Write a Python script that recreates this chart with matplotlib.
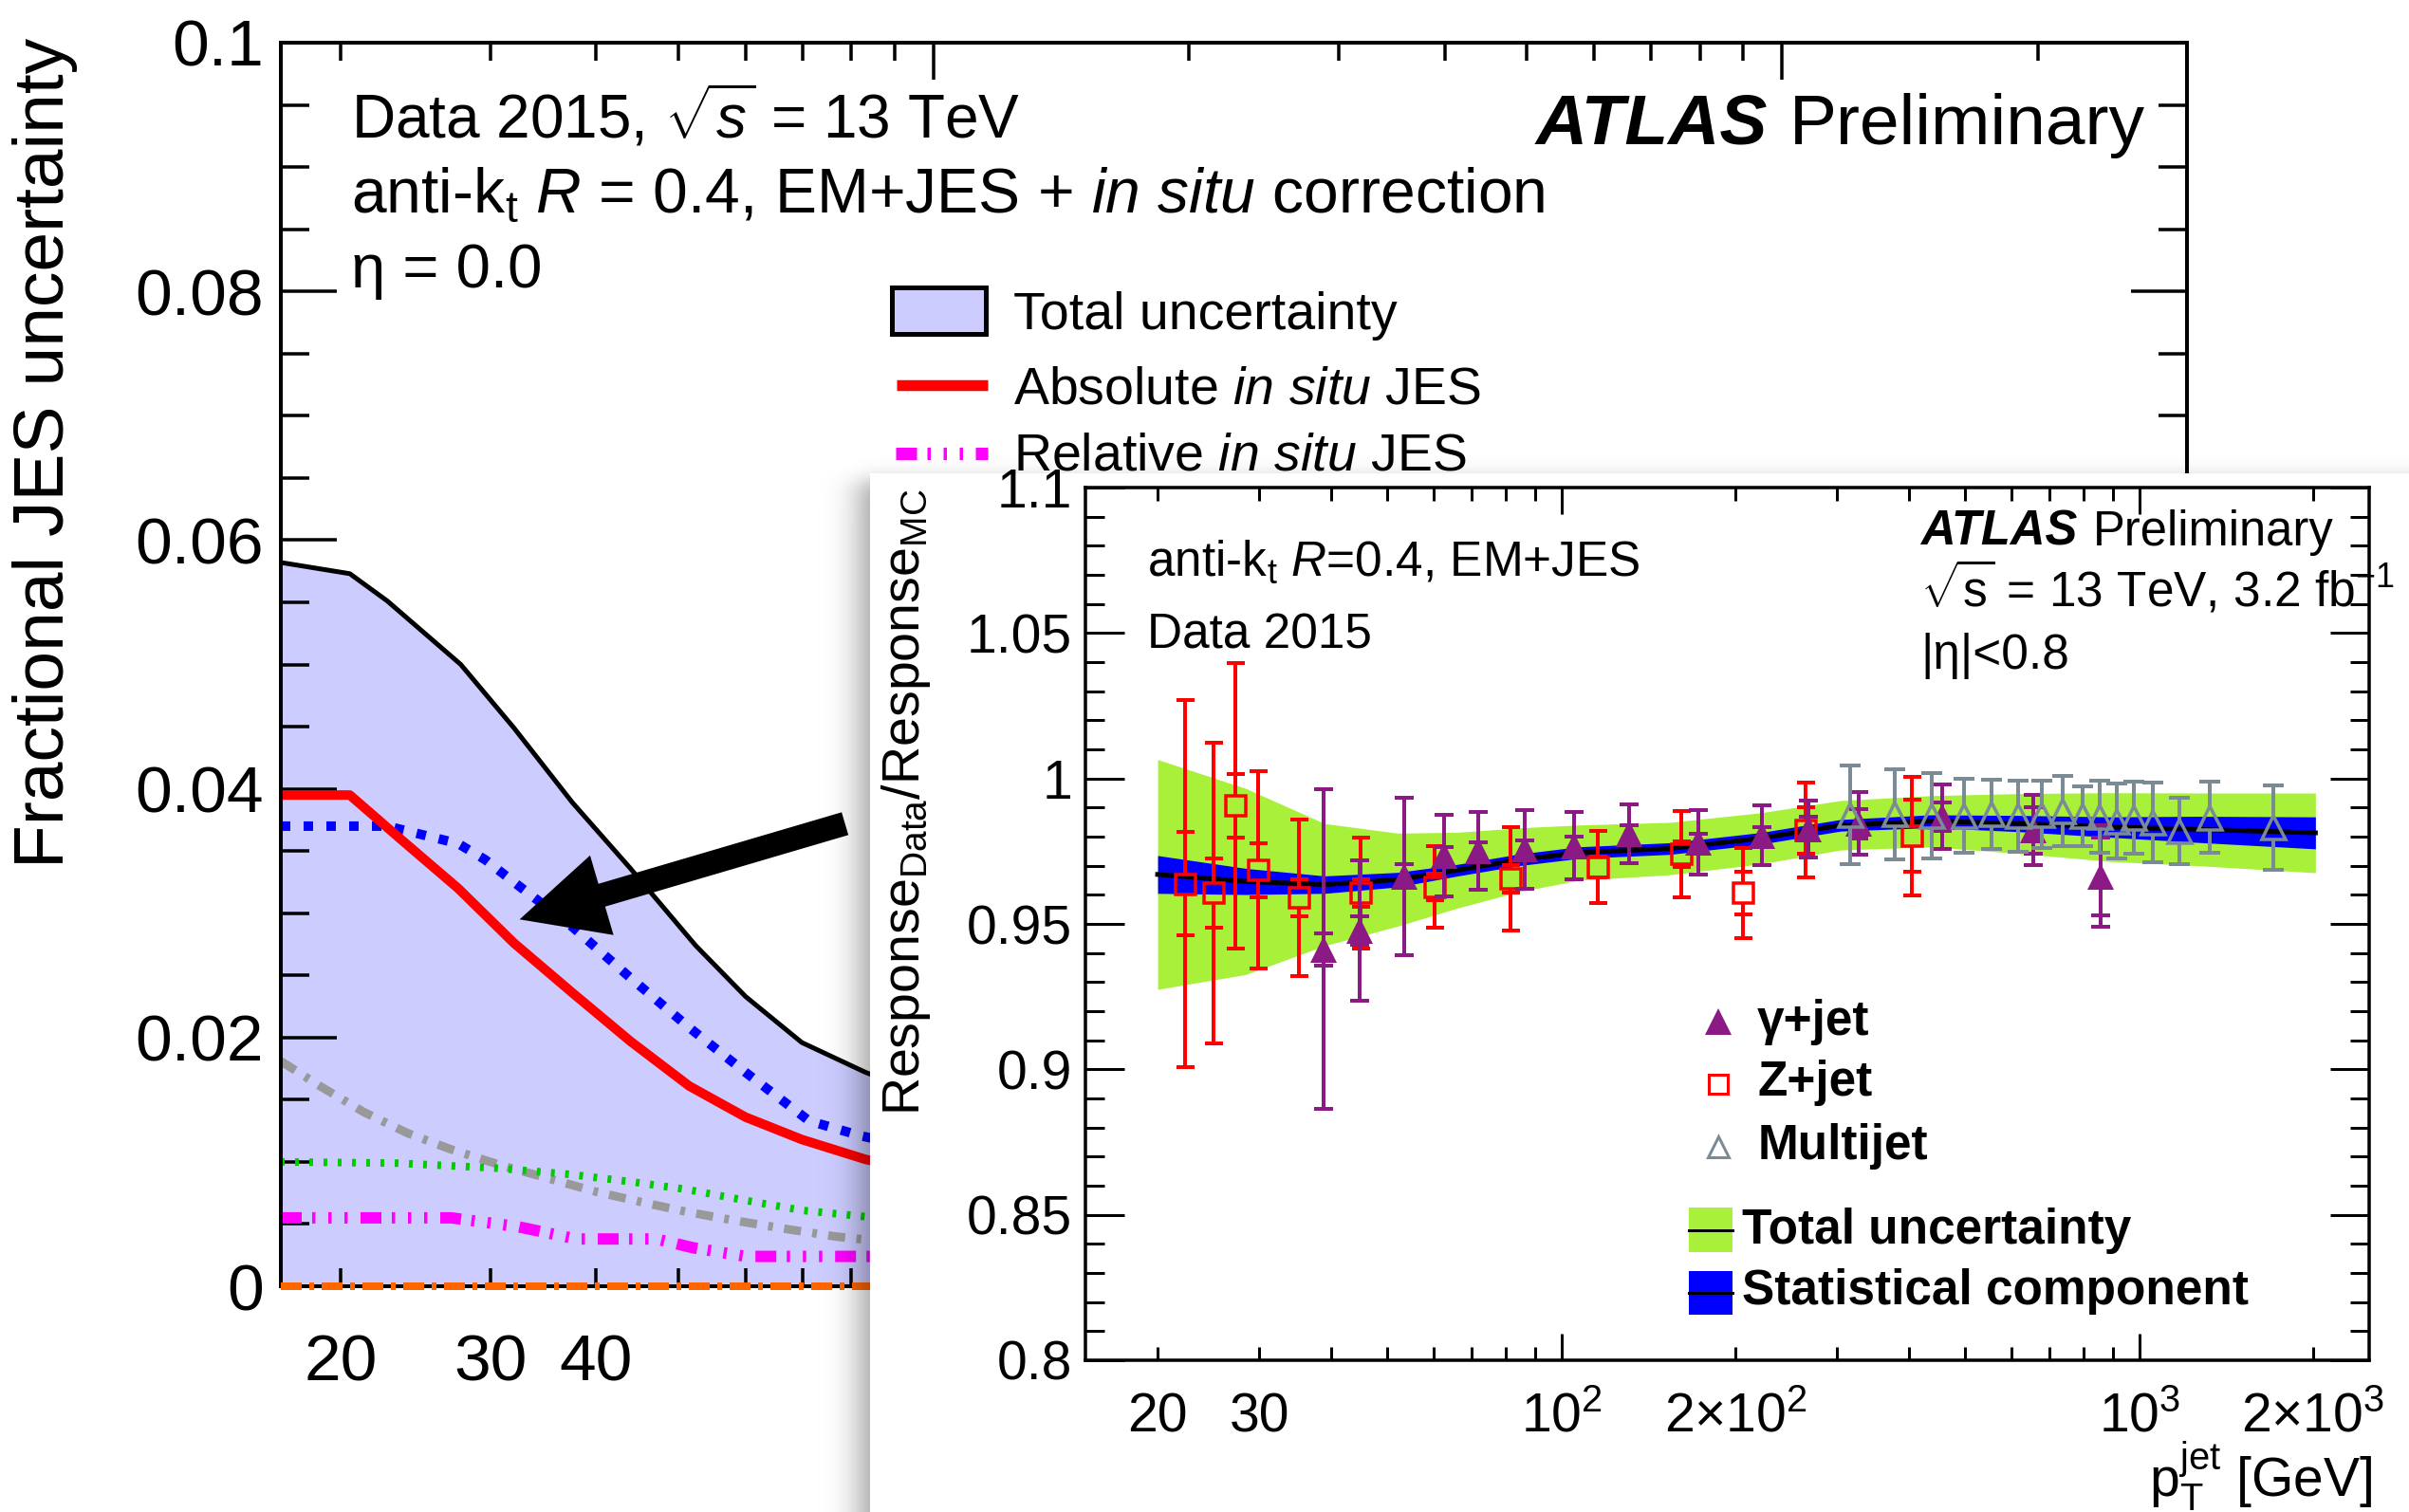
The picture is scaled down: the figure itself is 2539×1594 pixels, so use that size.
import numpy as np
import matplotlib
matplotlib.use('Agg')
import matplotlib.pyplot as plt
from matplotlib.patches import Rectangle, FancyArrowPatch, ArrowStyle
from matplotlib.lines import Line2D
from matplotlib.ticker import FixedLocator, FuncFormatter, MultipleLocator

plt.rcParams['font.family'] = ['Liberation Sans', 'DejaVu Sans']
plt.rcParams['mathtext.fontset'] = 'custom'
plt.rcParams['mathtext.rm'] = 'Liberation Sans'
plt.rcParams['mathtext.it'] = 'Liberation Sans:italic'
plt.rcParams['mathtext.bf'] = 'Liberation Sans:bold'
plt.rcParams['mathtext.sf'] = 'Liberation Sans'
plt.rcParams['lines.scale_dashes'] = False

# ---------------- background plot: fractional JES uncertainty (eta = 0) ----------------
pt_total = [17, 20.5, 22.7, 27.7, 32.0, 37.5, 43.9, 52.4, 60.0, 69.9, 83.1, 90]
unc_total = [0.0582, 0.0573, 0.0551, 0.0500, 0.0449, 0.0389, 0.0336, 0.0274, 0.0233, 0.0196, 0.0172, 0.0163]
pt_abs = [17, 20.5, 23.4, 27.5, 32.0, 37.5, 43.9, 51.5, 60.0, 69.9, 83.1, 90]
unc_abs = [0.0395, 0.0395, 0.0361, 0.0320, 0.0276, 0.0236, 0.0197, 0.0161, 0.0136, 0.0118, 0.0102, 0.0097]
pt_rel = [17, 27.0, 32.3, 37.9, 47.1, 52.0, 60.0, 82, 90]
unc_rel = [0.0055, 0.0055, 0.0048, 0.0038, 0.0038, 0.0031, 0.0024, 0.0024, 0.0024]
pt_flavcomp = [17, 22.7, 27.5, 29.6, 32.0, 37.5, 43.9, 51.5, 60.0, 71.3, 82, 90]
unc_flavcomp = [0.0370, 0.0370, 0.0356, 0.0343, 0.0325, 0.0289, 0.0248, 0.0208, 0.0172, 0.0133, 0.0121, 0.0115]
pt_flavresp = [17, 23.3, 30.5, 37.2, 44, 51, 60, 70, 83, 90]
unc_flavresp = [0.0100, 0.0099, 0.0095, 0.0090, 0.0084, 0.0078, 0.0069, 0.0061, 0.0056, 0.0053]
pt_pileup = [17.0, 18.9, 21.3, 24.0, 27.0, 31.0, 35.0, 40.0, 45.0, 51.0, 58.1, 67.1, 76.6, 90]
unc_pileup = [0.0181, 0.0161, 0.0140, 0.0123, 0.0110, 0.0097, 0.0087, 0.0076, 0.0068, 0.0060, 0.0053, 0.0046, 0.0040, 0.0035]
pt_punch = [17, 90]
unc_punch = [0.0, 0.0]
bg_legend = ['Total uncertainty', r'Absolute $\mathit{in\ situ}$ JES', r'Relative $\mathit{in\ situ}$ JES']

# ---------------- inset: Response(Data)/Response(MC) ----------------
zj_pt = [22.3, 25.0, 27.3, 29.9, 35.1, 44.9, 60.3, 81.7, 115.7, 161.5, 206.4, 264.9, 404.7]
zj_r = [0.9638, 0.9606, 0.9906, 0.9685, 0.9590, 0.9606, 0.9627, 0.9655, 0.9695, 0.9740, 0.9606, 0.9822, 0.9802]
zj_tot = [0.063, 0.0517, 0.049, 0.0339, 0.0268, 0.019, 0.0139, 0.0177, 0.0124, 0.0149, 0.0156, 0.0163, 0.0204]
zj_stat = [0.0177, 0.0119, 0.0110, 0.0093, 0.0063, 0.0047, 0.0046, 0.0048, 0.0035, 0.0043, 0.0073, 0.0080, 0.0124]

gj_pt = [38.8, 44.7, 53.4, 62.7, 71.7, 86.3, 105.1, 130.9, 172.8, 222.0, 267.7, 326.8, 456.2, 654.9, 858.5]
gj_r = [0.9413, 0.9477, 0.9664, 0.9734, 0.9751, 0.9757, 0.9769, 0.9810, 0.9781, 0.9804, 0.9827, 0.9845, 0.9868, 0.9822, 0.9664]
gj_tot = [0.055, 0.024, 0.027, 0.014, 0.0133, 0.0135, 0.0115, 0.0101, 0.011, 0.0102, 0.0098, 0.0107, 0.011, 0.012, 0.0175]
gj_stat = [0.0056, 0.005, 0.004, 0.003, 0.003, 0.003, 0.003, 0.003, 0.003, 0.003, 0.004, 0.005, 0.005, 0.008, 0.0134]

mj_pt = [315.4, 376.9, 436.9, 496.8, 555.9, 617.5, 678.5, 737.9, 796.8, 855.4, 915.2, 977.5, 1054, 1175, 1324, 1705]
mj_r = [0.9875, 0.9877, 0.9871, 0.9871, 0.9877, 0.9871, 0.9876, 0.9888, 0.9871, 0.9867, 0.9853, 0.9864, 0.9849, 0.9819, 0.9866, 0.9832]
mj_tot = [0.0168, 0.0155, 0.0146, 0.0128, 0.0120, 0.0123, 0.0115, 0.0121, 0.0103, 0.0124, 0.0128, 0.0124, 0.0136, 0.0114, 0.0123, 0.0145]

fit_pt = [20, 28.4, 38.9, 52, 66.2, 84.2, 107, 154, 221, 304, 435, 621, 887, 1266, 2018]
fit_r = [0.9670, 0.9646, 0.9635, 0.9652, 0.9685, 0.9720, 0.9745, 0.9759, 0.9794, 0.9839, 0.9853, 0.9845, 0.9833, 0.9825, 0.9813]
fit_stat = [0.0065, 0.0045, 0.003, 0.0025, 0.002, 0.002, 0.002, 0.002, 0.002, 0.002, 0.0022, 0.0028, 0.0035, 0.0045, 0.0055]
fit_tot = [0.0395, 0.032, 0.021, 0.016, 0.013, 0.011, 0.0095, 0.009, 0.0088, 0.0085, 0.0088, 0.0103, 0.0118, 0.0125, 0.0137]
inset_legend = ['γ+jet', 'Z+jet', 'Multijet', 'Total uncertainty', 'Statistical component']

# ---------------- layout helpers ----------------
W, H, DPI = 2539, 1594, 100
PT = 72.0 / DPI


def P(px):
    return px * PT


fig = plt.figure(figsize=(W / DPI, H / DPI), dpi=DPI, facecolor='white')
TF = fig.transFigure


def box(l, t, r, b):
    return [l / W, 1 - b / H, (r - l) / W, (b - t) / H]


def F(px, py):
    return (px / W, 1 - py / H)


renderer = fig.canvas.get_renderer()


def atlas_label(ax, x_left, y_base, size, gap_px):
    t1 = ax.text(*F(x_left, y_base), 'ATLAS', transform=TF, fontsize=size,
                 fontweight='bold', fontstyle='italic', va='baseline', ha='left')
    bb = t1.get_window_extent(renderer=renderer)
    ax.text((bb.x1 + gap_px) / W, 1 - y_base / H, 'Preliminary', transform=TF,
            fontsize=size, va='baseline', ha='left')


# ================= background axes =================
ax1 = fig.add_axes(box(296, 45, 2305, 1356), zorder=0)
ax1.set_xscale('log')
ax1.fill_between(pt_total, 0, unc_total, color='#ccccff', lw=0, zorder=1)
ax1.plot(pt_total, unc_total, color='black', lw=P(5), zorder=2)
ax1.plot(pt_punch, unc_punch, color='#ff6600', lw=P(8), dashes=(P(22), P(8), P(5), P(8)),
         zorder=3, clip_on=False)
rel_dash = (P(22), P(11), P(3.5), P(13.5), P(3.5), P(13.5), P(3.5), P(13.5))
ax1.plot(pt_rel, unc_rel, color='#ff00ff', lw=P(12), dashes=rel_dash, zorder=2)
ax1.plot(pt_pileup, unc_pileup, color='#999999', lw=P(9), dashes=(P(18), P(12), P(5), P(12)), zorder=2)
ax1.plot(pt_flavresp, unc_flavresp, color='#00cc00', lw=P(8), dashes=(P(4), P(11)), zorder=2)
ax1.plot(pt_flavcomp, unc_flavcomp, color='#0000ff', lw=P(10), dashes=(P(10), P(14)), zorder=2)
ax1.plot(pt_abs, unc_abs, color='#ff0000', lw=P(10), solid_capstyle='butt', zorder=2)
ax1.set_xlim(17, 3000)
ax1.set_ylim(0, 0.1)

bg_minor = [20, 30, 40, 50, 60, 70, 80, 90, 200, 300, 400, 500, 600, 700, 800, 900, 2000]
bg_minor_lab = {20: '20', 30: '30', 40: '40'}
ax1.xaxis.set_major_locator(FixedLocator([100, 1000]))
ax1.xaxis.set_minor_locator(FixedLocator(bg_minor))
ax1.xaxis.set_major_formatter(FuncFormatter(lambda v, p: {100: r'$10^{2}$', 1000: r'$10^{3}$'}.get(int(round(v)), '')))
ax1.xaxis.set_minor_formatter(FuncFormatter(lambda v, p: bg_minor_lab.get(int(round(v)), '')))
ax1.yaxis.set_major_locator(MultipleLocator(0.02))
ax1.yaxis.set_minor_locator(MultipleLocator(0.005))
ax1.yaxis.set_major_formatter(FuncFormatter(lambda v, p: '0' if abs(v) < 1e-9 else f'{round(v, 3):g}'))
ax1.tick_params(axis='both', which='both', direction='in', top=True, right=True, width=P(3.5))
ax1.tick_params(axis='y', which='major', length=P(59), pad=P(18), labelsize=50)
ax1.tick_params(axis='y', which='minor', length=P(30))
ax1.tick_params(axis='x', which='major', length=P(39), pad=P(49), labelsize=50)
ax1.tick_params(axis='x', which='minor', length=P(19), pad=P(49), labelsize=50)
for s in ax1.spines.values():
    s.set_linewidth(P(4))

ax1.text(*F(48, 40), 'Fractional JES uncertainty', transform=TF, rotation=90,
         ha='center', va='top', fontsize=54)
ax1.text(*F(370, 146), r'Data 2015, $\sqrt{s}$ = 13 TeV', transform=TF, fontsize=46, va='baseline')
ax1.text(*F(370, 224), r'anti-k$_{\mathrm{t}}$ $\mathit{R}$ = 0.4, EM+JES + $\mathit{in\ situ}$ correction',
         transform=TF, fontsize=47.5, va='baseline')
ax1.text(*F(370, 303), 'η = 0.0', transform=TF, fontsize=47, va='baseline')
atlas_label(ax1, 1619, 152, 54, 22)

# background legend (upper part visible)
ax1.add_artist(Rectangle(F(939.5, 351.5), 99 / W, 48 / H, transform=TF, facecolor='#ccccff',
                         edgecolor='black', lw=P(5), clip_on=False))
ax1.add_artist(Line2D([945 / W, 1041 / W], [1 - 405.5 / H] * 2, transform=TF, color='#ff0000',
                      lw=P(11.5), solid_capstyle='butt', clip_on=False))
ax1.add_artist(Line2D([944 / W, 1041 / W], [1 - 477.5 / H] * 2, transform=TF, color='#ff00ff',
                      lw=P(13), dashes=rel_dash, clip_on=False))
for lab, yb in zip(bg_legend, [347, 425, 496]):
    ax1.text(*F(1068, yb), lab, transform=TF, fontsize=40, va='baseline')

# arrow
arrow = FancyArrowPatch(posA=(78.6, 0.0372), posB=(32.5, 0.0295),
                        arrowstyle=ArrowStyle.Simple(head_length=65, head_width=63, tail_width=18),
                        mutation_scale=1, color='black', lw=0, shrinkA=0, shrinkB=0, zorder=6)
ax1.add_patch(arrow)

# ================= inset panel with drop shadow =================
L0, T0 = 840, 440
PL, PTOP = 917, 499
axd = fig.add_axes(box(L0, T0, W, H), zorder=1)
axd.axis('off')
xs = np.arange(L0, W) + 0.5
ys = np.arange(T0, H) + 0.5
sig = lambda u: 0.5 * (1 + np.tanh(u))
shx = sig((xs - (PL - 10)) / 20.0)
shy = sig((ys - (PTOP + 8)) / 12.0)
img = np.zeros((len(ys), len(xs), 4))
img[..., 3] = 0.38 * shy[:, None] * shx[None, :]
inside = (ys[:, None] >= PTOP) & (xs[None, :] >= PL)
img[inside] = [1, 1, 1, 1]
axd.imshow(img, extent=(L0, W, H, T0), origin='upper', aspect='auto', interpolation='nearest')
axd.set_xlim(L0, W)
axd.set_ylim(H, T0)

# ================= inset axes =================
GREEN = '#a8f03a'
BLUE = '#0000ff'
PURPLE = '#8c1a85'
GRAY = '#7b8b96'
RED = '#ff0000'

ax2 = fig.add_axes(box(1144, 514, 2497, 1434), zorder=2)
ax2.set_facecolor('none')
ax2.set_xscale('log')
fr = np.asarray(fit_r)
ax2.fill_between(fit_pt, fr - np.asarray(fit_tot), fr + np.asarray(fit_tot), color=GREEN, lw=0, zorder=1)
ax2.fill_between(fit_pt, fr - np.asarray(fit_stat), fr + np.asarray(fit_stat), color=BLUE, lw=0, zorder=1.1)
ax2.plot(fit_pt, fit_r, color='black', lw=P(5), zorder=1.2)

DY = 0.3 / 920.0  # data units per pixel in the inset


def draw_bars(ax, x, y, err, stat, color, gap_px, cap_px, lw_px, z):
    x = np.asarray(x, float)
    y = np.asarray(y, float)
    err = np.asarray(err, float)
    g = np.minimum(gap_px * DY, err)
    ax.vlines(x, y + g, y + err, colors=color, lw=P(lw_px), zorder=z)
    ax.vlines(x, y - err, y - g, colors=color, lw=P(lw_px), zorder=z)
    for e in (err, np.asarray(stat, float)):
        for sgn in (1, -1):
            ax.plot(x, y + sgn * e, ls='none', marker='_', ms=P(cap_px), mew=P(lw_px),
                    color=color, zorder=z)


draw_bars(ax2, zj_pt, zj_r, zj_tot, zj_stat, RED, 10, 19, 4, 3)
ax2.plot(zj_pt, zj_r, ls='none', marker='s', ms=P(21), mfc='none', mec=RED, mew=P(3.5), zorder=3)
draw_bars(ax2, gj_pt, gj_r, gj_tot, gj_stat, PURPLE, 0, 20, 4, 4)
ax2.plot(gj_pt, gj_r, ls='none', marker='^', ms=P(28), color=PURPLE, mew=0, zorder=4)
draw_bars(ax2, mj_pt, mj_r, mj_tot, mj_tot, GRAY, 12, 22, 4, 5)
ax2.plot(mj_pt, mj_r, ls='none', marker='^', ms=P(25), mfc='none', mec=GRAY, mew=P(3.5), zorder=5)

ax2.set_xlim(15, 2500)
ax2.set_ylim(0.8, 1.1)
in_minor = [20, 30, 40, 50, 60, 70, 80, 90, 200, 300, 400, 500, 600, 700, 800, 900, 2000]
in_minor_lab = {20: '20', 30: '30', 200: r'$2{\times}10^{2}$', 2000: r'$2{\times}10^{3}$'}
ax2.xaxis.set_major_locator(FixedLocator([100, 1000]))
ax2.xaxis.set_minor_locator(FixedLocator(in_minor))
ax2.xaxis.set_major_formatter(FuncFormatter(lambda v, p: {100: r'$10^{2}$', 1000: r'$10^{3}$'}.get(int(round(v)), '')))
ax2.xaxis.set_minor_formatter(FuncFormatter(lambda v, p: in_minor_lab.get(int(round(v)), '')))
ax2.yaxis.set_major_locator(MultipleLocator(0.05))
ax2.yaxis.set_minor_locator(MultipleLocator(0.01))
ax2.yaxis.set_major_formatter(FuncFormatter(lambda v, p: f'{round(v, 3):g}'))
ax2.tick_params(axis='both', which='both', direction='in', top=True, right=True, width=P(3))
ax2.tick_params(axis='y', which='major', length=P(41), pad=P(14), labelsize=41)
ax2.tick_params(axis='y', which='minor', length=P(20))
ax2.tick_params(axis='x', which='major', length=P(28), pad=P(33), labelsize=41)
ax2.tick_params(axis='x', which='minor', length=P(14), pad=P(33), labelsize=41)
for s in ax2.spines.values():
    s.set_linewidth(P(3.5))

ax2.text(*F(955, 515), r'Response$_{\mathrm{Data}}$/Response$_{\mathrm{MC}}$', transform=TF,
         rotation=90, ha='center', va='top', fontsize=40)
ax2.text(*F(2500, 1578), r'$\mathrm{p}_{\mathrm{T}}^{\mathrm{jet}}$ [GeV]', transform=TF,
         ha='right', va='baseline', fontsize=41)
ax2.text(*F(1209, 607), r'anti-k$_{\mathrm{t}}$ $\mathit{R}$=0.4, EM+JES', transform=TF, fontsize=37, va='baseline')
ax2.text(*F(1209, 684), 'Data 2015', transform=TF, fontsize=37, va='baseline')
atlas_label(ax2, 2024, 575, 36.5, 17)
ax2.text(*F(2024, 640), r'$\sqrt{\mathrm{s}}$ = 13 TeV, 3.2 fb$^{\mathrm{-1}}$', transform=TF, fontsize=37, va='baseline')
ax2.text(*F(2024, 705), '|η|<0.8', transform=TF, fontsize=37, va='baseline')

# inset legend
ax2.add_artist(Line2D([1811 / W], [1 - 1077 / H], transform=TF, ls='none', marker='^', ms=P(28),
                      color=PURPLE, mew=0, clip_on=False))
ax2.add_artist(Line2D([1811 / W], [1 - 1143 / H], transform=TF, ls='none', marker='s', ms=P(20),
                      mfc='none', mec=RED, mew=P(3), clip_on=False))
ax2.add_artist(Line2D([1811 / W], [1 - 1209 / H], transform=TF, ls='none', marker='^', ms=P(22),
                      mfc='none', mec=GRAY, mew=P(3), clip_on=False))
for (t, b), col in zip([(1273, 1320), (1340, 1386)], [GREEN, BLUE]):
    ax2.add_artist(Rectangle(F(1780, b), 46 / W, (b - t) / H, transform=TF, facecolor=col, lw=0,
                             clip_on=False))
    ax2.add_artist(Line2D([1780 / W, 1826 / W], [1 - (t + b) / 2 / H] * 2, transform=TF, color='black',
                          lw=P(3), clip_on=False))
for lab, (xl, yb) in zip(inset_legend, [(1852, 1091), (1852, 1155), (1853, 1222), (1836, 1311), (1836, 1375)]):
    ax2.text(*F(xl, yb), lab, transform=TF, fontsize=37, fontweight='bold', va='baseline')

fig.savefig('out.png', dpi=DPI, facecolor='white')
